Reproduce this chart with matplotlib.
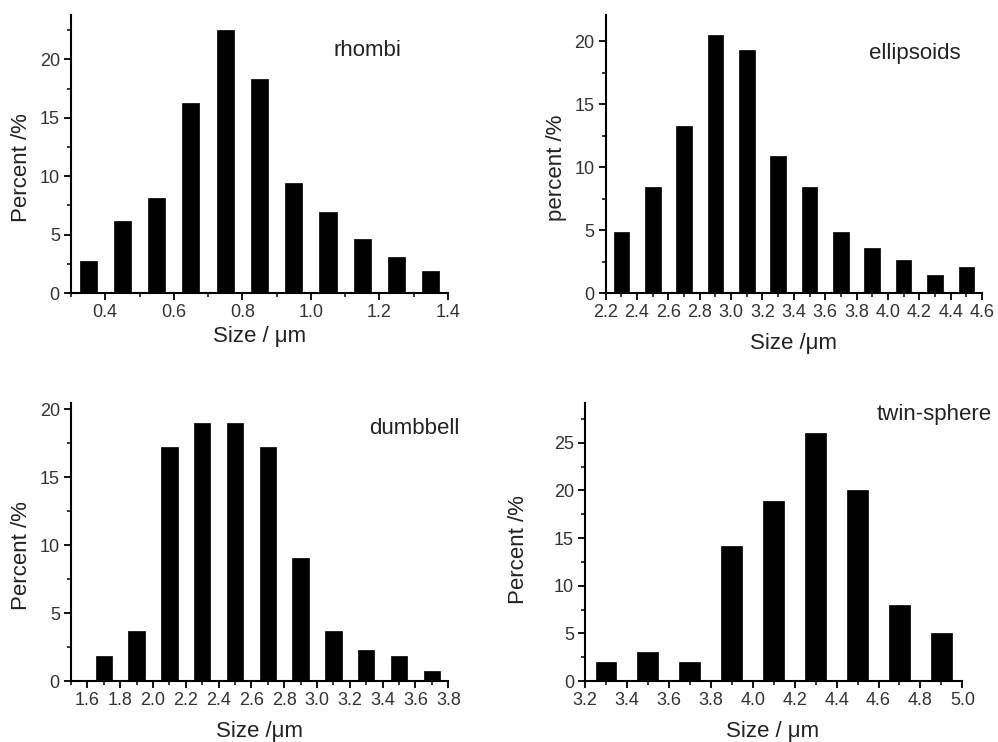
import numpy as np
import matplotlib.pyplot as plt
from matplotlib.ticker import MultipleLocator

plt.rcParams["font.family"] = ["Liberation Sans", "DejaVu Sans"]

# bin centres and percentages
rhombi_x = [0.35, 0.45, 0.55, 0.65, 0.75, 0.85, 0.95, 1.05, 1.15, 1.25, 1.35]
rhombi_y = [2.7, 6.2, 8.1, 16.3, 22.5, 18.3, 9.4, 6.9, 4.6, 3.1, 1.9]

ellip_x = [2.3, 2.5, 2.7, 2.9, 3.1, 3.3, 3.5, 3.7, 3.9, 4.1, 4.3, 4.5]
ellip_y = [4.85, 8.4, 13.27, 20.5, 19.3, 10.9, 8.4, 4.85, 3.6, 2.65, 1.43, 2.1]

dumb_x = [1.7, 1.9, 2.1, 2.3, 2.5, 2.7, 2.9, 3.1, 3.3, 3.5, 3.7]
dumb_y = [1.85, 3.67, 17.2, 19.04, 19.04, 17.2, 9.05, 3.67, 2.3, 1.85, 0.74]

twin_x = [3.3, 3.5, 3.7, 3.9, 4.1, 4.3, 4.5, 4.7, 4.9]
twin_y = [2.03, 3.04, 2.0, 14.2, 18.85, 26.05, 20.07, 8.0, 5.03]

fig = plt.figure(figsize=(9.98, 7.42), dpi=100)

panels = [
    # rect, x, y, width, xlim, ylim, xmajor, name, name pos, ylabel, ylabel pos, xlabel, xlabel pos
    ([0.0711, 0.6051, 0.3778, 0.3747], rhombi_x, rhombi_y, 0.05, (0.3, 1.4), (0, 23.8), 0.2,
     "rhombi", (0.695, 0.874), "Percent /%", (-0.13, 0.45), "Size / \u03bcm", (0.50, -0.158)),
    ([0.6069, 0.6051, 0.3771, 0.3747], ellip_x, ellip_y, 0.1, (2.2, 4.6), (0, 22.1), 0.2,
     "ellipsoids", (0.70, 0.863), "percent /%", (-0.13, 0.45), "Size /\u03bcm", (0.50, -0.18)),
    ([0.0711, 0.0822, 0.3781, 0.3751], dumb_x, dumb_y, 0.1, (1.5, 3.8), (0, 20.5), 0.2,
     "dumbbell", (0.79, 0.909), "Percent /%", (-0.13, 0.449), "Size /\u03bcm", (0.50, -0.18)),
    ([0.5862, 0.0822, 0.3781, 0.3751], twin_x, twin_y, 0.1, (3.2, 5.0), (0, 29.2), 0.2,
     "twin-sphere", (0.774, 0.959), "Percent /%", (-0.175, 0.474), "Size / \u03bcm", (0.496, -0.18)),
]

for (rect, xs, ys, w, xlim, ylim, xmaj, name, npos, ylab, ypos, xlab, xpos) in panels:
    ax = fig.add_axes(rect)
    ax.bar(xs, ys, width=w, color="black", edgecolor="black", linewidth=0.5)
    ax.set_xlim(*xlim)
    ax.set_ylim(*ylim)

    ax.spines["top"].set_visible(False)
    ax.spines["right"].set_visible(False)
    for s in ("left", "bottom"):
        ax.spines[s].set_linewidth(1.5)

    ax.xaxis.set_major_locator(MultipleLocator(xmaj))
    ax.xaxis.set_minor_locator(MultipleLocator(xmaj / 2))
    ax.yaxis.set_major_locator(MultipleLocator(5))
    ax.yaxis.set_minor_locator(MultipleLocator(2.5))
    ax.xaxis.set_major_formatter(plt.FormatStrFormatter("%.1f"))
    ax.tick_params(which="major", direction="out", length=5, width=1.3,
                   labelsize=13, labelcolor="#333333", pad=3)
    ax.tick_params(which="minor", direction="out", length=3, width=1.1)

    ax.text(npos[0], npos[1], name, transform=ax.transAxes, fontsize=16,
            ha="left", va="center", color="#222222")
    ax.set_ylabel(ylab, fontsize=16, color="#222222")
    ax.yaxis.set_label_coords(*ypos)
    ax.set_xlabel(xlab, fontsize=16, color="#222222")
    ax.xaxis.set_label_coords(*xpos)
    ax.xaxis.label.set_va("center")
    ax.yaxis.label.set_va("center")

fig.savefig("out.png", dpi=100)
